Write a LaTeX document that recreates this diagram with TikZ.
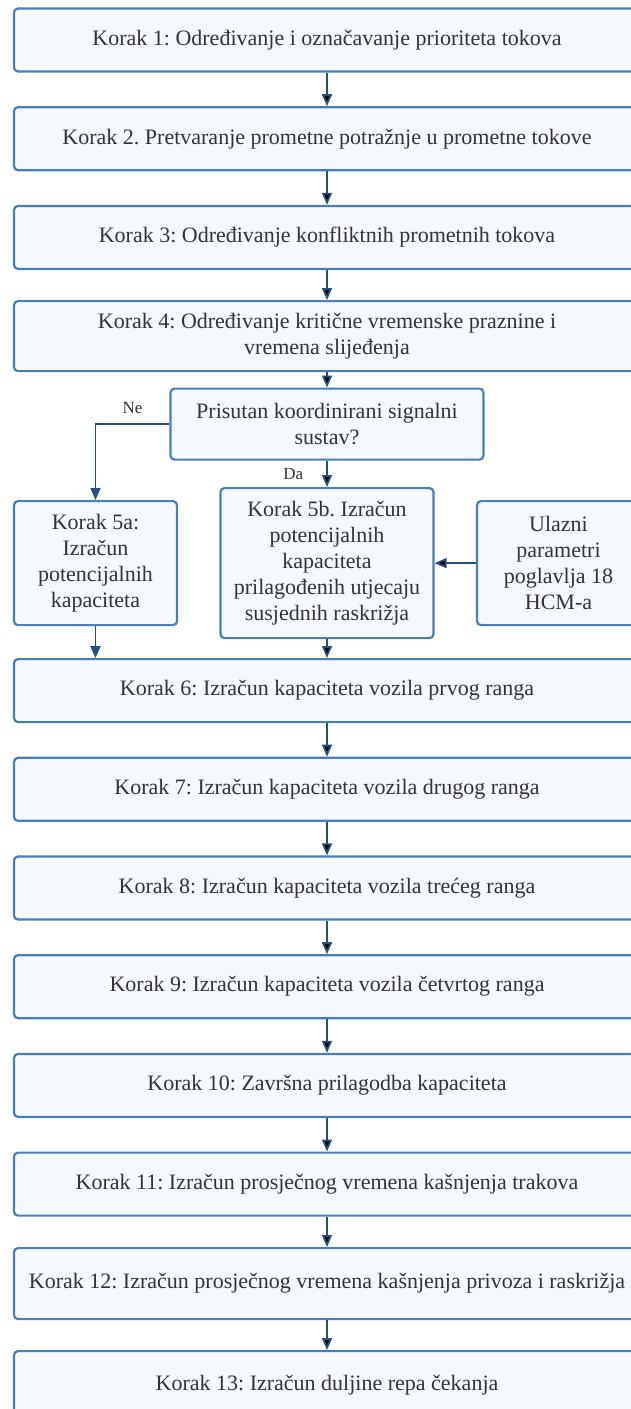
\documentclass[tikz,border=0pt]{standalone}
\usepackage{fontspec}
\setmainfont{Liberation Serif}
\usetikzlibrary{arrows.meta,positioning}

\definecolor{boxline}{HTML}{4A7EBB}
\definecolor{boxfill}{HTML}{F5F9FE}
\definecolor{flowcol}{HTML}{23507E}
\definecolor{txtcol}{HTML}{333333}

\begin{document}
\frenchspacing
\begin{tikzpicture}[x=1pt, y=-1pt, >={Triangle[length=12pt,width=10pt]}, node distance=98.7pt,
	korak/.style={draw=boxline, fill=boxfill, line width=2.2pt, rounded corners=4pt,
		text=txtcol, font=\fontsize{22}{26}\selectfont, align=center, inner sep=0pt,
		minimum width=626pt, minimum height=63pt},
	smallbox/.style={korak, minimum width=163pt, minimum height=124pt},
	flow/.style={->, draw=flowcol, line width=1.8pt},
	lbl/.style={text=txtcol, font=\fontsize{17}{20}\selectfont, inner sep=0pt}]
	\useasboundingbox (0,0) rectangle (630,1409);

	% Nodes {k1 .. k13}
	\node [korak, on grid]							(k1) at (327,40)			{Korak 1: Određivanje i označavanje prioriteta tokova};
	\node [korak, on grid]							(k2) [below=of k1]		{Korak 2. Pretvaranje prometne potražnje u prometne tokove};
	\node [korak, on grid]							(k3) [below=of k2]		{Korak 3: Određivanje konfliktnih prometnih tokova};
	\node [korak, on grid, minimum height=70pt]		(k4) [below=of k3]		{Korak 4: Određivanje kritične vremenske praznine i\\ vremena slijeđenja};
	\node [korak, on grid, minimum width=313pt, minimum height=71pt]
													(upit) [below=88pt of k4]	{Prisutan koordinirani signalni\\ sustav?};
	\node [korak, on grid, minimum width=213pt, minimum height=150pt]
													(k5b) [below=139pt of upit]	{Korak 5b. Izračun\\ potencijalnih\\ kapaciteta\\ prilagođenih utjecaju\\ susjednih raskrižja};
	\node [smallbox, on grid]						(k5a) [left=231.5pt of k5b]	{Korak 5a:\\ Izračun\\ potencijalnih\\ kapaciteta};
	\node [smallbox, on grid]						(ulaz) [right=231.5pt of k5b]	{Ulazni\\ parametri\\ poglavlja 18\\ HCM-a};
	\node [korak, on grid]							(k6) [below=127.5pt of k5b]	{Korak 6: Izračun kapaciteta vozila prvog ranga};
	\node [korak, on grid]							(k7) [below=of k6]		{Korak 7: Izračun kapaciteta vozila drugog ranga};
	\node [korak, on grid]							(k8) [below=of k7]		{Korak 8: Izračun kapaciteta vozila trećeg ranga};
	\node [korak, on grid]							(k9) [below=of k8]		{Korak 9: Izračun kapaciteta vozila četvrtog ranga};
	\node [korak, on grid]							(k10) [below=of k9]		{Korak 10: Završna prilagodba kapaciteta};
	\node [korak, on grid]							(k11) [below=of k10]		{Korak 11: Izračun prosječnog vremena kašnjenja trakova};
	\node [korak, on grid, minimum height=71pt]		(k12) [below=99.5pt of k11]	{Korak 12: Izračun prosječnog vremena kašnjenja privoza i raskrižja};
	\node [korak, on grid, minimum height=68pt]		(k13) [below=101.5pt of k12]	{Korak 13: Izračun duljine repa čekanja};

	% Paths
	\path [flow]
	(k1) edge (k2)
	(k2) edge (k3)
	(k3) edge (k4)
	(k4) edge (upit)
	(upit) edge node [lbl, left, xshift=-23pt] {Da} (k5b)
	(ulaz) edge (k5b)
	(k5b) edge (k6)
	(k6) edge (k7)
	(k7) edge (k8)
	(k8) edge (k9)
	(k9) edge (k10)
	(k10) edge (k11)
	(k11) edge (k12)
	(k12) edge (k13);

	% The branch without a coordinated signal system
	\draw [flow] (upit.west) -| node [lbl, above, pos=0.25, yshift=10pt] {Ne} (k5a);
	\draw [flow] (k5a) -- (k5a.south |- k6.north);

\end{tikzpicture}
\end{document}
